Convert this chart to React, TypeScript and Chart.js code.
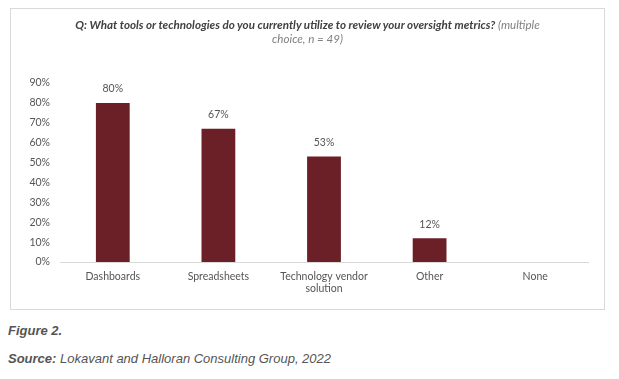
import React, { useEffect, useRef } from "react";
import { Chart, registerables } from "chart.js";

Chart.register(...registerables);

const categories: (string | string[])[] = [
  "Dashboards",
  "Spreadsheets",
  ["Technology vendor", "solution"],
  "Other",
  "None",
];
const percentValues: number[] = [80, 67, 53, 12, 0];
const valueLabels: string[] = ["80%", "67%", "53%", "12%", ""];
const yTickMax = 90;
const yTickStep = 10;

const titleBold =
  "Q: What tools or technologies do you currently utilize to review your oversight metrics?";
const titleLight1 = " (multiple";
const titleLight2 = "choice, n = 49)";

const BAR_COLOR = "#6b1f27";
const TEXT_COLOR = "#555555";
const FONT = "Lato, 'Open Sans', sans-serif";

const valueLabelPlugin = {
  id: "valueLabels",
  afterDatasetsDraw(chart: any) {
    const ctx = chart.ctx;
    const meta = chart.getDatasetMeta(0);
    ctx.save();
    ctx.font = `10.5px ${FONT}`;
    ctx.fillStyle = TEXT_COLOR;
    ctx.textAlign = "center";
    ctx.textBaseline = "middle";
    meta.data.forEach((bar: any, i: number) => {
      const lbl = valueLabels[i];
      if (!lbl) return;
      ctx.fillText(lbl, bar.x, bar.y - 14);
    });
    ctx.restore();
  },
};

export default function App() {
  const canvasRef = useRef<HTMLCanvasElement | null>(null);

  useEffect(() => {
    if (!canvasRef.current) return;
    const chart = new Chart(canvasRef.current, {
      type: "bar",
      data: {
        labels: categories,
        datasets: [
          {
            data: percentValues,
            backgroundColor: BAR_COLOR,
            borderWidth: 0,
            barPercentage: 0.32,
            categoryPercentage: 1,
          },
        ],
      },
      options: {
        responsive: false,
        animation: false,
        maintainAspectRatio: false,
        layout: { padding: { top: 74, right: 16, left: 0, bottom: 0 } },
        plugins: {
          legend: { display: false },
          title: { display: false },
          tooltip: { enabled: false },
        },
        scales: {
          x: {
            grid: { display: false, drawTicks: false },
            border: { display: true, color: "#d9d9d9", width: 1 },
            ticks: {
              color: TEXT_COLOR,
              font: { family: FONT, size: 10.5 },
              padding: 8,
              maxRotation: 0,
              autoSkip: false,
            },
            afterFit: (s: any) => {
              s.height = 47;
            },
          },
          y: {
            min: 0,
            max: yTickMax,
            grid: { display: false, drawTicks: false },
            border: { display: false },
            ticks: {
              stepSize: yTickStep,
              color: TEXT_COLOR,
              font: { family: FONT, size: 10.5 },
              padding: 10,
              callback: (v: any) => `${v}%`,
            },
            afterFit: (s: any) => {
              s.width = 49;
            },
          },
        },
      },
      plugins: [valueLabelPlugin],
    });
    return () => chart.destroy();
  }, []);

  return (
    <div style={{ position: "relative", width: 603, height: 363 }}>
      <div
        style={{
          position: "absolute",
          left: 2,
          top: 0,
          width: 593,
          height: 300,
          border: "1px solid #d9d9d9",
          background: "#fff",
        }}
      >
        <canvas
          ref={canvasRef}
          width={593}
          height={300}
          style={{ position: "absolute", left: 0, top: 0, width: 593, height: 300 }}
        />
        <div
          style={{
            position: "absolute",
            left: 0,
            top: 9,
            width: 593,
            textAlign: "center",
            fontFamily: FONT,
            fontStyle: "italic",
            fontSize: 11.6,
            lineHeight: "14px",
            color: "#404040",
            whiteSpace: "nowrap",
          }}
        >
          <span style={{ fontWeight: 700 }}>{titleBold}</span>
          <span style={{ color: "#7f7f7f" }}>{titleLight1}</span>
          <br />
          <span style={{ color: "#7f7f7f" }}>{titleLight2}</span>
        </div>
      </div>
      <div
        style={{
          position: "absolute",
          left: 0,
          top: 315,
          fontFamily: "'Liberation Sans', Arial, sans-serif",
          fontStyle: "italic",
          fontSize: 13,
          color: "#555555",
          whiteSpace: "nowrap",
        }}
      >
        <div style={{ fontWeight: 700, lineHeight: "16px" }}>Figure 2.</div>
        <div style={{ lineHeight: "16px", marginTop: 12 }}>
          <span style={{ fontWeight: 700 }}>Source:</span> Lokavant and Halloran Consulting Group, 2022
        </div>
      </div>
    </div>
  );
}
